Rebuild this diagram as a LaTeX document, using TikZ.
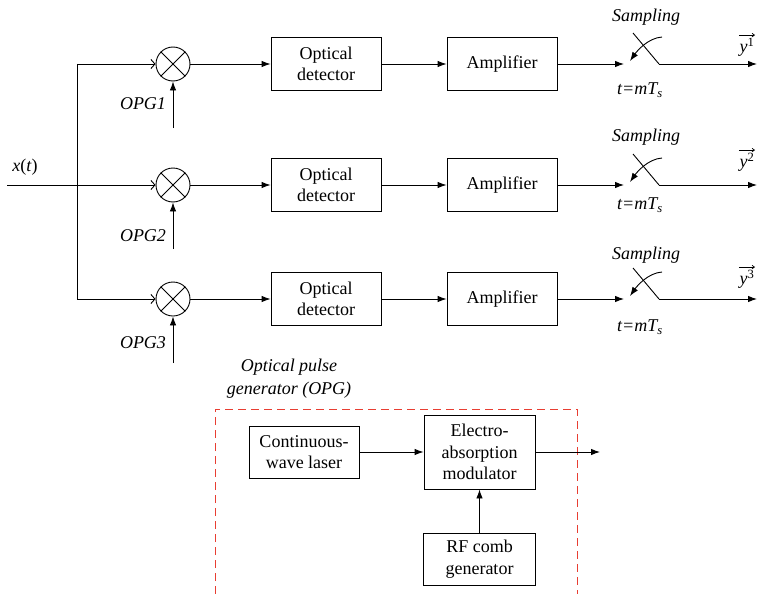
\documentclass[tikz,border=0pt]{standalone}
\usepackage{fontspec}
\setmainfont{Liberation Serif}[Ligatures=TeX]
\usetikzlibrary{arrows.meta}
\definecolor{opgred}{RGB}{232,62,50}
\tikzset{
  every node/.style={font=\fontsize{18}{21.5}\selectfont},
  blk/.style={draw, line width=0.9pt, minimum width=110pt, minimum height=53pt,
               align=center, inner sep=0pt},
  mixer/.style={draw, circle, line width=0.9pt, minimum size=34pt, inner sep=0pt},
  wire/.style={line width=0.9pt},
  sig/.style={wire, -{Latex[length=9pt,width=6.5pt]}},
  feed/.style={wire, -{Straight Barb[length=4pt,width=9pt]}},
  vecbar/.style={line width=0.7pt, -{Straight Barb[length=2.5pt,width=3.5pt]}},
  lbl/.style={font=\fontsize{18}{21.5}\selectfont\itshape, inner sep=0pt},
  opgbox/.style={draw=opgred, line width=1pt, dash pattern=on 8pt off 5pt},
}
\begin{document}
\begin{tikzpicture}[x=1pt, y=-1pt]
  \useasboundingbox (0,0) rectangle (760,594);

  % three parallel channels: mixer, detector, amplifier, sampler
  \foreach \r/\y/\ty/\sy/\oy/\yy in {1/64/90/17/104/47, 2/185/205/137/236/162, 3/299/327/255/343/279}{
    \node[mixer] (m\r) at (173,\y) {};
    \draw[wire] (m\r.north east) -- (m\r.south west)
                (m\r.north west) -- (m\r.south east);
    \coordinate (o\r) at (173,\y+64);
    \node[lbl] (opg\r) at (143,\oy) {OPG\r};
    \draw[sig] (o\r) -- (m\r.south);

    \node[blk] (det\r) at (326,\y) {Optical\\detector};
    \node[blk] (amp\r) at (502,\y) {Amplifier};
    \draw[sig] (m\r.east) -- (det\r.west);
    \draw[sig] (det\r.east) -- (amp\r.west);

    % sampling switch
    \coordinate (si\r) at (624,\y);
    \coordinate (sa\r) at (633,\y-31);
    \coordinate (sb\r) at (659,\y);
    \coordinate (so\r) at (757,\y);
    \coordinate (ca\r) at (662,\y-27);
    \coordinate (cb\r) at (630,\y-3);
    \draw[sig] (amp\r.east) -- (si\r);
    \draw[wire] (sa\r) -- (sb\r);
    \draw[sig] (sb\r) -- (so\r);
    \draw[sig] (ca\r) .. controls +(-14,1) and +(7,-10) .. (cb\r);
    \node[lbl] (smp\r) at (646,\sy) {Sampling};
    \node[lbl] (tm\r) at (640,\ty) {t=mT\textsubscript{s}};
    % sampled output vector y with its arrow bar
    \node[inner sep=0.5pt] (y\r) at (747,\yy) {\textit{y}\textsuperscript{\r}};
    \draw[vecbar] ([yshift=2pt]y\r.north west) -- ([yshift=2pt]y\r.north east);
  }

  % input signal and its branches
  \coordinate (xin) at (7,185);
  \coordinate (b1) at (77,64);
  \coordinate (b3) at (77,299);
  \node[inner sep=0pt] (xlbl) at (25,167) {\textit{x}(\textit{t})};
  \draw[feed] (xin) -- (m2.west);
  \draw[wire] (b1) -- (b3);
  \draw[feed] (b1) -- (m1.west);
  \draw[feed] (b3) -- (m3.west);

  % optical pulse generator
  \node[lbl, align=center, font=\fontsize{18}{23}\selectfont\itshape] (opgl) at (289,379)
    {Optical pulse\\generator (OPG)};
  \draw[opgbox] (215,594) -- (215,409) -- (577,409) -- (577,594);
  \node[blk, minimum height=52pt] (cw) at (304,452) {Continuous-\\wave laser};
  \node[blk, minimum width=111pt, minimum height=74pt] (eam) at (479.5,452)
    {Electro-\\absorption\\modulator};
  \node[blk, minimum width=112pt, minimum height=52pt] (rf) at (479.5,559)
    {RF comb\\generator};
  \coordinate (eout) at (600,452);
  \draw[sig] (cw.east) -- (eam.west);
  \draw[sig] (eam.east) -- (eout);
  \draw[sig] (rf.north) -- (eam.south);
\end{tikzpicture}
\end{document}
